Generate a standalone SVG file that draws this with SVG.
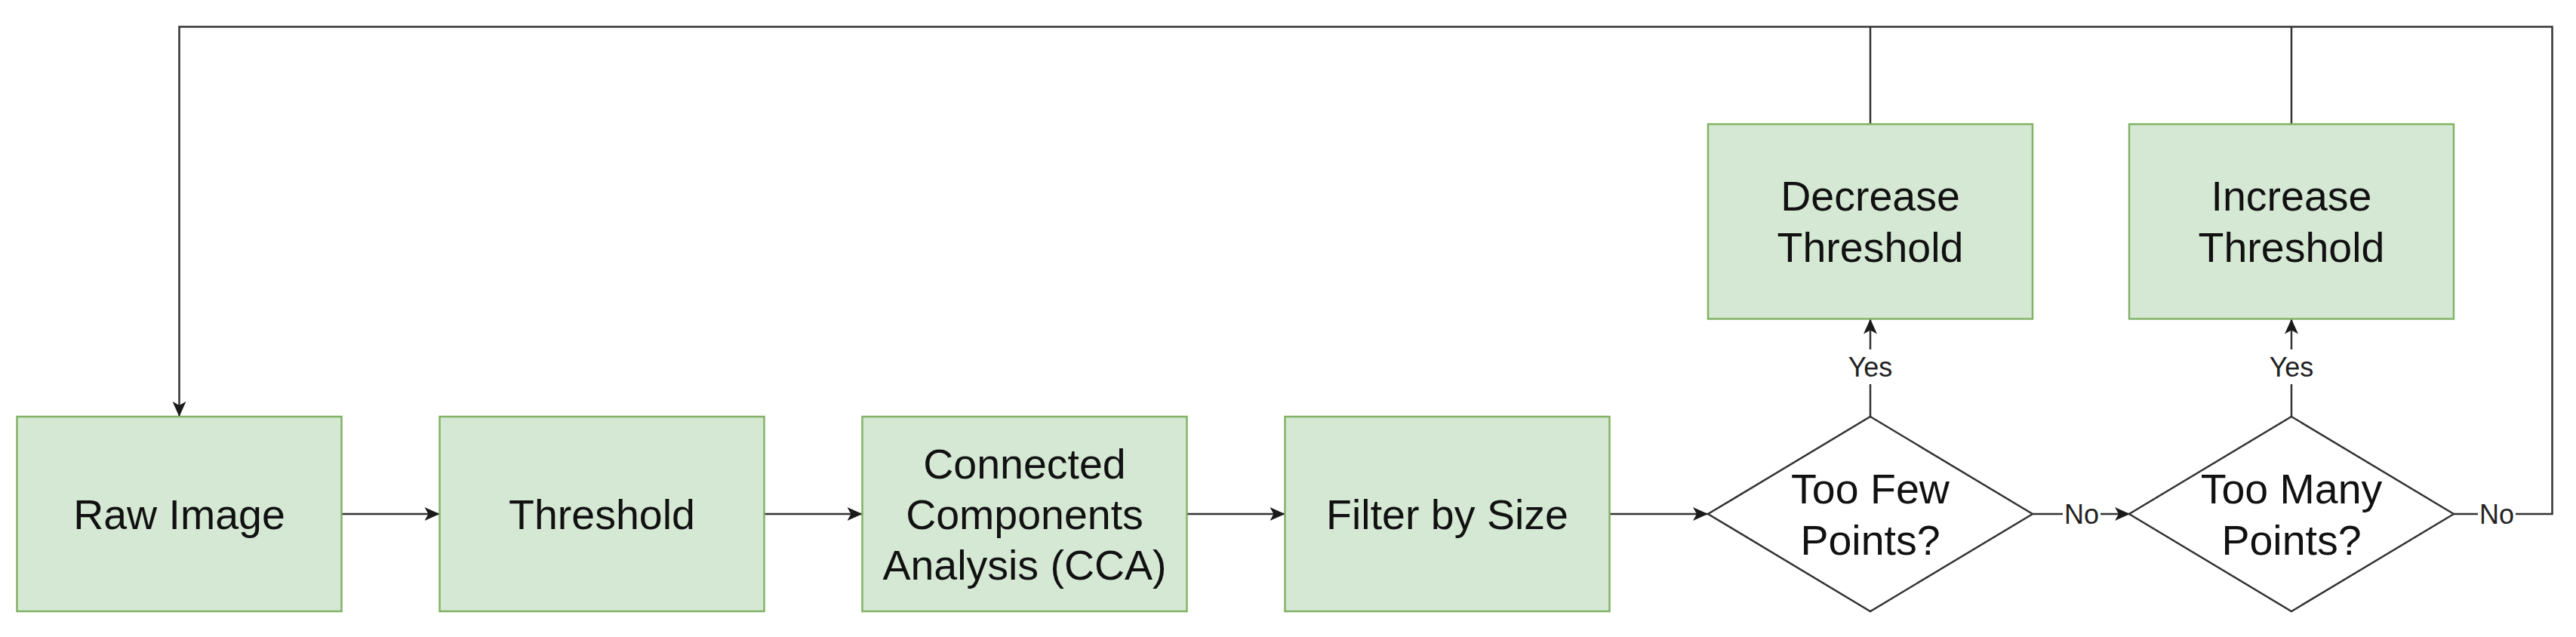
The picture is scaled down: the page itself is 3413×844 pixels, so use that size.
<svg xmlns="http://www.w3.org/2000/svg" width="3413" height="844" viewBox="0 0 3413 844">
<style>
.box{fill:#d5e8d4;stroke:#82b366;stroke-width:2.5}
.dia{fill:#ffffff;stroke:#333333;stroke-width:2.5}
.t{font-family:"Liberation Sans",Arial,Helvetica,sans-serif;font-size:55.5px;fill:#111111;text-anchor:middle}
.lbl{font-family:"Liberation Sans",Arial,Helvetica,sans-serif;font-size:36px;fill:#222222;text-anchor:middle}
.edge{fill:none;stroke:#333333;stroke-width:2.5}
.bg{fill:#ffffff}
</style>
<defs>
<marker id="arr" markerUnits="userSpaceOnUse" viewBox="0 0 20 18" markerWidth="20" markerHeight="18" refX="20" refY="9" orient="auto">
<path d="M0,0 L20,9 L0,18 L5,9 Z" fill="#1a1a1a"/>
</marker>
</defs>
<rect width="3413" height="844" fill="#ffffff"/>
<g id="connectors">
<path class="edge" d="M452.5,681 L582.5,681" marker-end="url(#arr)"/>
<path class="edge" d="M1012.5,681 L1142.5,681" marker-end="url(#arr)"/>
<path class="edge" d="M1572.5,681 L1702.5,681" marker-end="url(#arr)"/>
<path class="edge" d="M2132.5,681 L2263,681" marker-end="url(#arr)"/>
<path class="edge" d="M2693,681 L2822,681" marker-end="url(#arr)"/>
<path class="edge" d="M2478,552 L2478,422.5" marker-end="url(#arr)"/>
<path class="edge" d="M3036,552 L3036,422.5" marker-end="url(#arr)"/>
<path class="edge" d="M2478,164.5 L2478,35.5"/>
<path class="edge" d="M3036,164.5 L3036,35.5"/>
<path class="edge" d="M3251,681 L3381.5,681 L3381.5,35.5 L237.5,35.5 L237.5,552" marker-end="url(#arr)"/>
<g id="label-yes-1"><rect class="bg" x="2446" y="463" width="64" height="46"/><text class="lbl" x="2478" y="498.5">Yes</text></g>
<g id="label-yes-2"><rect class="bg" x="3004" y="463" width="64" height="46"/><text class="lbl" x="3036" y="498.5">Yes</text></g>
<g id="label-no-1"><rect class="bg" x="2733" y="662" width="50" height="38"/><text class="lbl" x="2758" y="694">No</text></g>
<g id="label-no-2"><rect class="bg" x="3283" y="662" width="50" height="38"/><text class="lbl" x="3308" y="694">No</text></g>
</g>
<g id="raw-image"><rect class="box" x="22.5" y="552" width="430" height="258"/><text class="t" x="237.5" y="700.5">Raw Image</text></g>
<g id="threshold"><rect class="box" x="582.5" y="552" width="430" height="258"/><text class="t" x="797.5" y="700.5">Threshold</text></g>
<g id="cca"><rect class="box" x="1142.5" y="552" width="430" height="258"/><text class="t" x="1357.5" y="633.5">Connected</text><text class="t" x="1357.5" y="700.5">Components</text><text class="t" x="1357.5" y="767.5">Analysis (CCA)</text></g>
<g id="filter-by-size"><rect class="box" x="1702.5" y="552" width="430" height="258"/><text class="t" x="1917.5" y="700.5">Filter by Size</text></g>
<g id="too-few"><path class="dia" d="M2478,552 L2693,681 L2478,810 L2263,681 Z"/><text class="t" x="2478" y="667">Too Few</text><text class="t" x="2478" y="734.5">Points?</text></g>
<g id="too-many"><path class="dia" d="M3036,552 L3251,681 L3036,810 L2821,681 Z"/><text class="t" x="3036" y="667">Too Many</text><text class="t" x="3036" y="734.5">Points?</text></g>
<g id="decrease-threshold"><rect class="box" x="2263" y="164.5" width="430" height="258"/><text class="t" x="2478" y="279">Decrease</text><text class="t" x="2478" y="346.5">Threshold</text></g>
<g id="increase-threshold"><rect class="box" x="2821" y="164.5" width="430" height="258"/><text class="t" x="3036" y="279">Increase</text><text class="t" x="3036" y="346.5">Threshold</text></g>
</svg>
